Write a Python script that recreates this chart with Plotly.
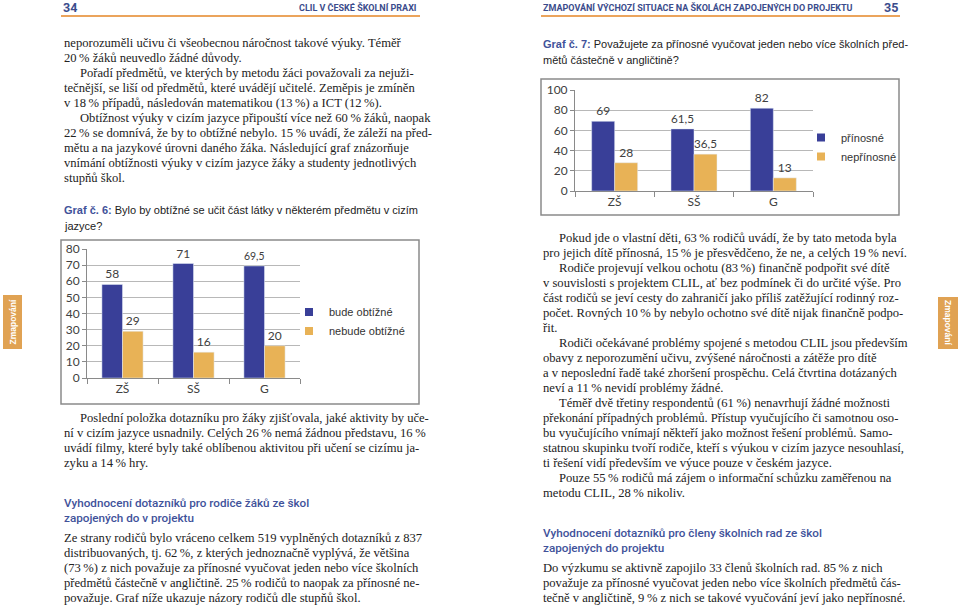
import plotly.graph_objects as go

W, H = 960, 605

# ---------------- data ----------------
categories = ["ZŠ", "SŠ", "G"]
g6_series = ["bude obtížné", "nebude obtížné"]
g6_hard = [58, 71, 69.5]
g6_not_hard = [29, 16, 20]
g6_ticks = [0, 10, 20, 30, 40, 50, 60, 70, 80]

g7_series = ["přínosné", "nepřínosné"]
g7_beneficial = [69, 61.5, 82]
g7_not_beneficial = [28, 36.5, 13]
g7_ticks = [0, 20, 40, 60, 80, 100]

NB = "\u202f"

left_top_lines = [
    ("neporozuměli učivu či všeobecnou náročnost takové výuky. Téměř", 0),
    (f"20{NB}% žáků neuvedlo žádné důvody.", 0),
    ("Pořadí předmětů, ve kterých by metodu žáci považovali za nejuži-", 1),
    ("tečnější, se liší od předmětů, které uvádějí učitelé. Zeměpis je zmíněn", 0),
    (f"v 18{NB}% případů, následován matematikou (13{NB}%) a ICT (12{NB}%).", 0),
    (f"Obtížnost výuky v cizím jazyce připouští více než 60{NB}% žáků, naopak", 1),
    (f"22{NB}% se domnívá, že by to obtížné nebylo. 15{NB}% uvádí, že záleží na před-", 0),
    ("mětu a na jazykové úrovni daného žáka. Následující graf znázorňuje", 0),
    ("vnímání obtížnosti výuky v cizím jazyce žáky a studenty jednotlivých", 0),
    ("stupňů škol.", 0),
]
left_mid_lines = [
    ("Poslední položka dotazníku pro žáky zjišťovala, jaké aktivity by uče-", 1),
    (f"ní v cizím jazyce usnadnily. Celých 26{NB}% nemá žádnou představu, 16{NB}%", 0),
    ("uvádí filmy, které byly také oblíbenou aktivitou při učení se cizímu ja-", 0),
    (f"zyku a 14{NB}% hry.", 0),
]
left_bottom_lines = [
    ("Ze strany rodičů bylo vráceno celkem 519 vyplněných dotazníků z 837", 0),
    (f"distribuovaných, tj. 62{NB}%, z kterých jednoznačně vyplývá, že většina", 0),
    (f"(73{NB}%) z nich považuje za přínosné vyučovat jeden nebo více školních", 0),
    (f"předmětů částečně v angličtině. 25{NB}% rodičů to naopak za přínosné ne-", 0),
    ("považuje. Graf níže ukazuje názory rodičů dle stupňů škol.", 0),
]
right_mid_lines = [
    (f"Pokud jde o vlastní děti, 63{NB}% rodičů uvádí, že by tato metoda byla", 1),
    (f"pro jejich dítě přínosná, 15{NB}% je přesvědčeno, že ne, a celých 19{NB}% neví.", 0),
    (f"Rodiče projevují velkou ochotu (83{NB}%) finančně podpořit své dítě", 1),
    ("v souvislosti s projektem CLIL, ať bez podmínek či do určité výše. Pro", 0),
    ("část rodičů se jeví cesty do zahraničí jako příliš zatěžující rodinný roz-", 0),
    (f"počet. Rovných 10{NB}% by nebylo ochotno své dítě nijak finančně podpo-", 0),
    ("řit.", 0),
    ("Rodiči očekávané problémy spojené s metodou CLIL jsou především", 1),
    ("obavy z neporozumění učivu, zvýšené náročnosti a zátěže pro dítě", 0),
    ("a v neposlední řadě také zhoršení prospěchu. Celá čtvrtina dotázaných", 0),
    (f"neví a 11{NB}% nevidí problémy žádné.", 0),
    (f"Téměř dvě třetiny respondentů (61{NB}%) nenavrhují žádné možnosti", 1),
    ("překonání případných problémů. Přístup vyučujícího či samotnou oso-", 0),
    ("bu vyučujícího vnímají někteří jako možnost řešení problémů. Samo-", 0),
    ("statnou skupinku tvoří rodiče, kteří s výukou v cizím jazyce nesouhlasí,", 0),
    ("ti řešení vidí především ve výuce pouze v českém jazyce.", 0),
    (f"Pouze 55{NB}% rodičů má zájem o informační schůzku zaměřenou na", 1),
    (f"metodu CLIL, 28{NB}% nikoliv.", 0),
]
right_bottom_lines = [
    (f"Do výzkumu se aktivně zapojilo 33 členů školních rad. 85{NB}% z nich", 0),
    ("považuje za přínosné vyučovat jeden nebo více školních předmětů čás-", 0),
    (f"tečně v angličtině, 9{NB}% z nich se takové vyučování jeví jako nepřínosné.", 0),
]
heading_left = ["Vyhodnocení dotazníků pro rodiče žáků ze škol", "zapojených do v projektu"]
heading_right = ["Vyhodnocení dotazníků pro členy školních rad ze škol", "zapojených do projektu"]
caption6 = ["<b>Graf č. 6:</b> Bylo by obtížné se učit část látky v některém předmětu v cizím", "jazyce?"]
caption7 = ["<b>Graf č. 7:</b> Považujete za přínosné vyučovat jeden nebo více školních před-", "mětů částečně v angličtině?"]

# ---------------- styles ----------------
BLUE = "#393f98"
ORANGE = "#e8b256"
HEAD_BLUE = "#3b4c8c"
LINE_ORANGE = "#eba45c"
TAB_ORANGE = "#e0a253"
SERIF = "Liberation Serif, Times New Roman, serif"
SANS = "Liberation Sans, Arial, sans-serif"
CHART = "Lato, Carlito, Calibri, sans-serif"
TXT = "#222222"


def px(x):
    return x / W


def py(y):
    return 1 - y / H


fig = go.Figure()

lab = lambda vals: [str(v).replace(".", ",") for v in vals]
label_font = dict(family=CHART, size=12, color="#404040")

for vals, color, xa, ya in [(g6_hard, BLUE, "x", "y"), (g6_not_hard, ORANGE, "x", "y"),
                            (g7_beneficial, BLUE, "x2", "y2"), (g7_not_beneficial, ORANGE, "x2", "y2")]:
    fig.add_trace(go.Bar(x=categories, y=vals, marker_color=color, text=lab(vals),
                         textposition="outside", cliponaxis=False, textfont=label_font,
                         xaxis=xa, yaxis=ya, showlegend=False, hoverinfo="x+y"))

# legend entries (small square keys like the original)
for name, color, xa, ya, lg in [(g6_series[0], BLUE, "x", "y", "legend"),
                                (g6_series[1], ORANGE, "x", "y", "legend"),
                                (g7_series[0], BLUE, "x2", "y2", "legend2"),
                                (g7_series[1], ORANGE, "x2", "y2", "legend2")]:
    fig.add_trace(go.Scatter(x=[None], y=[None], mode="markers", name=name,
                             marker=dict(symbol="square", size=8, color=color),
                             xaxis=xa, yaxis=ya, legend=lg, showlegend=True))

axis_common_x = dict(showline=True, linecolor="#8a8a8a", linewidth=1, ticks="outside",
                     tickson="boundaries", ticklen=5, tickcolor="#8a8a8a",
                     tickfont=dict(family=CHART, size=12, color="#404040"), showgrid=False,
                     fixedrange=True)
axis_common_y = dict(showline=True, linecolor="#8a8a8a", linewidth=1, ticks="outside",
                     ticklen=4, tickcolor="#8a8a8a", showgrid=True, gridcolor="#b8b8b8",
                     gridwidth=1, zeroline=False,
                     tickfont=dict(family=CHART, size=12, color="#404040"), fixedrange=True)

legend_common = dict(xanchor="left", yanchor="top", bgcolor="rgba(0,0,0,0)",
                     font=dict(family=SANS, size=11, color="#333"), tracegroupgap=0,
                     itemwidth=30, itemsizing="trace")

fig.update_layout(
    width=W, height=H, margin=dict(l=0, r=0, t=0, b=0, autoexpand=False),
    paper_bgcolor="white", plot_bgcolor="white",
    barmode="group", bargap=0.42, bargroupgap=0,
    xaxis=dict(domain=[px(87), px(300)], anchor="y", **axis_common_x),
    yaxis=dict(domain=[py(378), py(249)], anchor="x", range=[0, 80], tickvals=g6_ticks, **axis_common_y),
    xaxis2=dict(domain=[px(575), px(813)], anchor="y2", **axis_common_x),
    yaxis2=dict(domain=[py(191), py(90)], anchor="x2", range=[0, 100], tickvals=g7_ticks, **axis_common_y),
    legend=dict(x=px(289), y=py(297.5), **legend_common),
    legend2=dict(x=px(801), y=py(123), **legend_common),
    showlegend=True,
)

shapes = []
annotations = []

# chart boxes
shapes.append(dict(type="rect", xref="paper", yref="paper", x0=px(61), x1=px(419), y0=py(404), y1=py(240),
                   line=dict(color="#8a8a8a", width=1.5), fillcolor="rgba(0,0,0,0)", layer="below"))
shapes.append(dict(type="rect", xref="paper", yref="paper", x0=px(541), x1=px(899), y0=py(215), y1=py(79),
                   line=dict(color="#8a8a8a", width=1.5), fillcolor="rgba(0,0,0,0)", layer="below"))

# header rules
shapes.append(dict(type="line", xref="paper", yref="paper", x0=px(61), x1=px(420), y0=py(16), y1=py(16),
                   line=dict(color=LINE_ORANGE, width=2)))
shapes.append(dict(type="line", xref="paper", yref="paper", x0=px(541), x1=px(900), y0=py(16), y1=py(16),
                   line=dict(color=LINE_ORANGE, width=2)))

# side tabs
shapes.append(dict(type="rect", xref="paper", yref="paper", x0=px(3), x1=px(22), y0=py(349), y1=py(295),
                   line=dict(width=0), fillcolor=TAB_ORANGE))
shapes.append(dict(type="rect", xref="paper", yref="paper", x0=px(938), x1=px(958), y0=py(349), y1=py(297),
                   line=dict(width=0), fillcolor=TAB_ORANGE))


def ann(text, x, y, font, xanchor="left", angle=0):
    annotations.append(dict(text=text, x=px(x), y=py(y), xref="paper", yref="paper", showarrow=False,
                            xanchor=xanchor, yanchor="middle", font=font, textangle=angle,
                            align="left"))


body_font = dict(family=SERIF, size=12.6, color=TXT)


def block(lines, x0, y0, step=15.0, indent=16):
    for i, (t, ind) in enumerate(lines):
        ann(t, x0 + (indent if ind else 0), y0 + i * step, body_font)


block(left_top_lines, 62, 43)
block(left_mid_lines, 62, 418)
block(left_bottom_lines, 62, 538)
block(right_mid_lines, 541, 238.3)
block(right_bottom_lines, 541, 568.3)

head_font = dict(family="Roboto, Liberation Sans, sans-serif", size=11.7, color="#41529a", weight=500)
for i, t in enumerate(heading_left):
    ann(t, 62, 503 + i * 14.5, head_font)
for i, t in enumerate(heading_right):
    ann(t, 541, 533 + i * 14.5, head_font)

cap_font = dict(family=SANS, size=11.0, color="#222")
for i, t in enumerate(caption6):
    ann(t.replace("<b>", "<b><span style='color:#41529a'>").replace("</b>", "</span></b>"),
        62, 210.5 + i * 15, cap_font)
for i, t in enumerate(caption7):
    ann(t.replace("<b>", "<b><span style='color:#41529a'>").replace("</b>", "</span></b>"),
        541, 44 + i * 15.5, cap_font)

# running headers
HDR = "Roboto, Liberation Sans, sans-serif"
hdr_font = dict(family=HDR, size=9, color=HEAD_BLUE, weight=700)
ann("34", 61, 7.5, dict(family=HDR, size=12.5, color=HEAD_BLUE, weight=700))
ann("CLIL V ČESKÉ ŠKOLNÍ PRAXI", 419, 7.5, hdr_font, xanchor="right")
ann("ZMAPOVÁNÍ VÝCHOZÍ SITUACE NA ŠKOLÁCH ZAPOJENÝCH DO PROJEKTU", 541, 7.5, hdr_font)
ann("35", 900, 7.5, dict(family=HDR, size=12.5, color=HEAD_BLUE, weight=700), xanchor="right")

# tab labels
tab_font = dict(family=SANS, size=8.5, color="white")
ann("<b>Zmapování</b>", 12.5, 322, tab_font, xanchor="center", angle=-90)
ann("<b>Zmapování</b>", 948, 323, tab_font, xanchor="center", angle=90)

fig.update_layout(shapes=shapes, annotations=annotations)

fig.write_html("out.html", config={"displayModeBar": False},
               post_script="document.body.style.margin='0';document.body.style.padding='0';"
                           "document.body.style.overflow='hidden';")
